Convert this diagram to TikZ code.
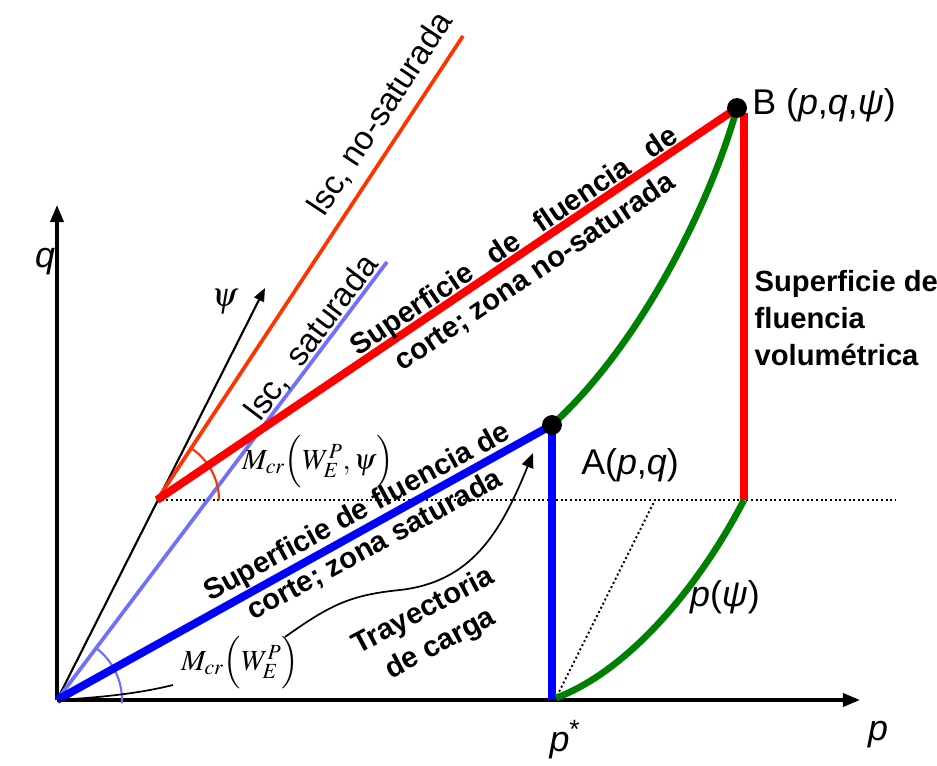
\documentclass[tikz,border=0pt]{standalone}
\usepackage{mathptmx}
\usepackage{fontspec}
\setmainfont{Liberation Sans}
\usetikzlibrary{arrows.meta}

\definecolor{surfred}{RGB}{255,0,0}
\definecolor{surfblue}{RGB}{0,0,255}
\definecolor{lscblue}{RGB}{112,112,255}
\definecolor{lscorange}{RGB}{255,51,0}
\definecolor{pgreen}{RGB}{0,128,0}

\begin{document}
\begin{tikzpicture}[x=0.0265cm,y=0.0265cm,
    axis/.style={line width=2.5pt,-{Triangle[length=13pt,width=10pt]}},
    surf/.style={line width=6pt},
    lscline/.style={line width=2.8pt},
    curveline/.style={pgreen,line width=5pt},
    anglearc/.style={line width=1.6pt},
    guide/.style={line width=1.5pt,dotted},
    dot/.style={circle,fill=black,inner sep=0pt,minimum size=15pt},
    yieldlbl/.style={font=\fontsize{22}{28}\selectfont\bfseries,align=center},
    lsclbl/.style={font=\fontsize{25}{30}\selectfont},
    ptlbl/.style={font=\fontsize{27}{32}\selectfont},
    mathlbl/.style={font=\fontsize{22}{26}\selectfont}]
    \useasboundingbox (0,0) rectangle (937,765);

    % Key points
    \coordinate (O) at (57,65);
    \coordinate (qtip) at (57,560);
    \coordinate (ptip) at (860,65);
    \coordinate (psitip) at (265,477);
    \coordinate (R) at (157,265);
    \coordinate (Rend) at (895,265);
    \coordinate (Ltop) at (463,729);
    \coordinate (Lsat) at (387,503);
    \coordinate (A) at (552,340);
    \coordinate (B) at (737,657);
    \coordinate (Ps) at (552,65);
    \coordinate (Vtop) at (744,652);
    \coordinate (Vbot) at (744,265);
    \coordinate (D1) at (555,65);
    \coordinate (D2) at (655,265);
    \coordinate (G1) at (556,67);
    \coordinate (lead) at (173,80);
    \coordinate (tstart) at (285,128);
    \coordinate (tend) at (533,312);

    % Dotted guides
    \draw[guide] (R) -- (Rend);
    \draw[guide] (D1) -- (D2);

    % Axes
    \draw[axis] (O) -- (qtip);
    \draw[axis] (O) -- (ptip);
    \draw[line width=1.6pt,-{Triangle[length=10pt,width=8pt]}] (O) -- (psitip);

    % Critical state lines
    \draw[lscline,lscorange] (R) -- (Ltop);
    \draw[lscline,lscblue] (O) -- (Lsat);

    % Angles
    \draw[anglearc,lscorange] (R) ++(56.6:62) arc[start angle=56.6,end angle=0,radius=62];
    \draw[anglearc,lscblue] (O) ++(53:65) arc[start angle=53,end angle=-3,radius=65];

    % Yield surfaces
    \draw[surf,surfred] (R) -- (B);
    \draw[surf,surfred] (Vtop) -- (Vbot);
    \draw[surf,surfblue] (O) -- (A);
    \draw[surf,surfblue] (A) -- (Ps);

    % p(psi) curves
    \draw[curveline] (A) .. controls (640,420) and (710,560) .. (B);
    \draw[curveline] (G1) .. controls (630,95) and (700,180) .. (Vbot);

    % Points A and B
    \node[dot] (Adot) at (A) {};
    \node[dot] (Bdot) at (B) {};

    % Load path and leader
    \draw[line width=1.3pt,-{Triangle[length=11pt,width=9pt]}] (tstart) .. controls (330,160) and (350,170) .. (400,175) .. controls (470,183) and (500,230) .. (tend);
    \draw[line width=1.3pt] (O) .. controls (110,68) and (145,73) .. (lead);

    % Axis labels
    \node[ptlbl] (qlbl) at (45,503) {\itshape q};
    \node[ptlbl] (plbl) at (878,30) {\itshape p};
    \node[ptlbl] (pslbl) at (565,25) {\itshape p\textsuperscript{\upshape *}};
    \node (psilbl) at (225,463) {\fontsize{26}{30}\selectfont$\psi$};

    % Point labels
    \node[ptlbl] (Albl) at (630,300) {A(\textit{p},\textit{q})};
    \node[ptlbl] (Blbl) at (824,660) {B (\textit{p},\textit{q},\textit{ψ})};
    \node[ptlbl] (pcurve) at (725,168) {\textit{p}(\textit{ψ})};

    % Critical state line labels
    \node[lsclbl,rotate=56.6] (lscns) at (381,651) {lsc, no-saturada};
    \node[lsclbl,rotate=53] (lscs) at (312,427) {lsc,\ \ saturada};

    % Yield surface labels
    \node[yieldlbl,rotate=34] (ysns) at (525,508)
        {\makebox[292pt][s]{Superficie de fluencia de}\\corte; zona no-saturada};
    \node[yieldlbl,rotate=28.5] (yss) at (366,236)
        {Superficie de fluencia de\\corte; zona saturada};
    \node[yieldlbl,rotate=28] (tray) at (432,137) {Trayectoria\\de carga};
    \node[yieldlbl,align=left,anchor=west] (vol) at (750,447)
        {Superficie de\\fluencia\\volumétrica};

    % Slope labels
    \node[mathlbl] (mcrns) at (318,303) {$M_{cr}\Bigl(W_E^P,\psi\Bigr)$};
    \node[mathlbl] (mcrs) at (240,102) {$M_{cr}\Bigl(W_E^P\Bigr)$};
\end{tikzpicture}
\end{document}
